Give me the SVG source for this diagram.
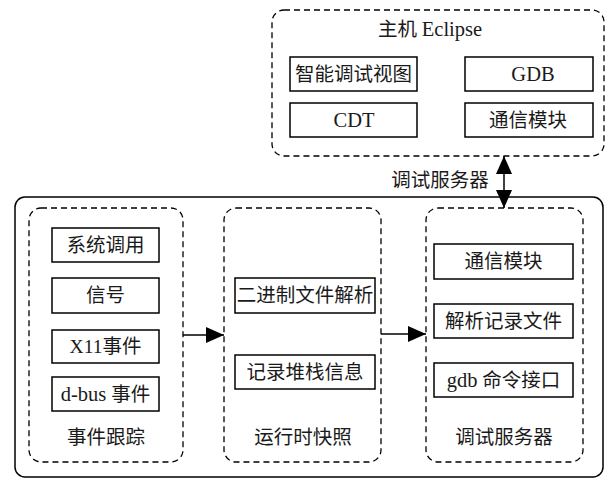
<svg xmlns="http://www.w3.org/2000/svg" width="606" height="481" viewBox="0 0 606 481">
  <defs>
    <marker id="arrow" markerUnits="userSpaceOnUse" markerWidth="18" markerHeight="18" viewBox="0 0 18 18" refX="18" refY="9" orient="auto-start-reverse">
      <path d="M0,1 L18,9 L0,17 Z" fill="#000"/>
    </marker>
  </defs>
  <style>
    .frame { fill: none; stroke: #000; stroke-width: 1.5; }
    .group { fill: none; stroke: #000; stroke-width: 1.3; stroke-dasharray: 6 4; }
    .box { fill: #fff; stroke: #000; stroke-width: 1.5; }
    .wire { fill: none; stroke: #000; stroke-width: 1.5; }
    text { font-family: "Liberation Serif", "Noto Sans CJK SC", serif; font-size: 19.5px; fill: #1a1a1a; text-anchor: middle; }
    .lat { font-size: 20.5px; }
  </style>
  <rect width="606" height="481" fill="#fff"/>

  <!-- host side -->
  <g id="host-eclipse">
    <rect class="group" x="272" y="10" width="332" height="146" rx="12"/>
    <text x="430" y="36">主机 <tspan class="lat">Eclipse</tspan></text>
  </g>
  <g id="smart-debug-view">
    <rect class="box" x="290" y="57" width="127" height="34"/>
    <text x="353.5" y="81">智能调试视图</text>
  </g>
  <g id="gdb">
    <rect class="box" x="465" y="57" width="128" height="34"/>
    <text class="lat" x="533" y="81">GDB</text>
  </g>
  <g id="cdt">
    <rect class="box" x="290" y="103" width="127" height="34"/>
    <text class="lat" x="354" y="127">CDT</text>
  </g>
  <g id="host-comm">
    <rect class="box" x="465" y="103" width="128" height="34"/>
    <text x="528" y="127">通信模块</text>
  </g>

  <!-- target side -->
  <g id="target">
    <rect class="frame" x="15" y="197" width="588" height="280" rx="10"/>
  </g>

  <g id="event-tracking">
    <rect class="group" x="29" y="208" width="154" height="254" rx="12"/>
    <text x="106" y="444">事件跟踪</text>
  </g>
  <g id="syscall">
    <rect class="box" x="52" y="228" width="107" height="34"/>
    <text x="105.5" y="252">系统调用</text>
  </g>
  <g id="signal">
    <rect class="box" x="52" y="278" width="107" height="35"/>
    <text x="105.5" y="302">信号</text>
  </g>
  <g id="x11-event">
    <rect class="box" x="52" y="330" width="107" height="33"/>
    <text x="105.5" y="353">X11事件</text>
  </g>
  <g id="dbus-event">
    <rect class="box" x="52" y="377" width="107" height="34"/>
    <text x="105.5" y="401"><tspan class="lat">d-bus</tspan> 事件</text>
  </g>

  <g id="runtime-snapshot">
    <rect class="group" x="224" y="208" width="157" height="254" rx="12"/>
    <text x="303" y="444">运行时快照</text>
  </g>
  <g id="binary-parse">
    <rect class="box" x="235" y="278" width="140" height="35"/>
    <text x="305" y="302">二进制文件解析</text>
  </g>
  <g id="stack-record">
    <rect class="box" x="235" y="355" width="140" height="34"/>
    <text x="305" y="379">记录堆栈信息</text>
  </g>

  <g id="debug-server">
    <rect class="group" x="426" y="208" width="157" height="254" rx="12"/>
    <text x="504" y="444">调试服务器</text>
  </g>
  <g id="server-comm">
    <rect class="box" x="434" y="244" width="139" height="35"/>
    <text x="503.5" y="268">通信模块</text>
  </g>
  <g id="parse-record">
    <rect class="box" x="434" y="304" width="139" height="34"/>
    <text x="503.5" y="328">解析记录文件</text>
  </g>
  <g id="gdb-cmd">
    <rect class="box" x="434" y="363" width="139" height="34"/>
    <text x="503.5" y="387"><tspan class="lat">gdb</tspan> 命令接口</text>
  </g>

  <!-- connectors -->
  <g id="connectors">
    <line class="wire" x1="183" y1="335" x2="224" y2="335" marker-end="url(#arrow)"/>
    <line class="wire" x1="381" y1="334" x2="426" y2="334" marker-end="url(#arrow)"/>
    <line class="wire" x1="504" y1="156" x2="504" y2="208" marker-start="url(#arrow)" marker-end="url(#arrow)"/>
    <text x="440" y="187">调试服务器</text>
  </g>
</svg>
